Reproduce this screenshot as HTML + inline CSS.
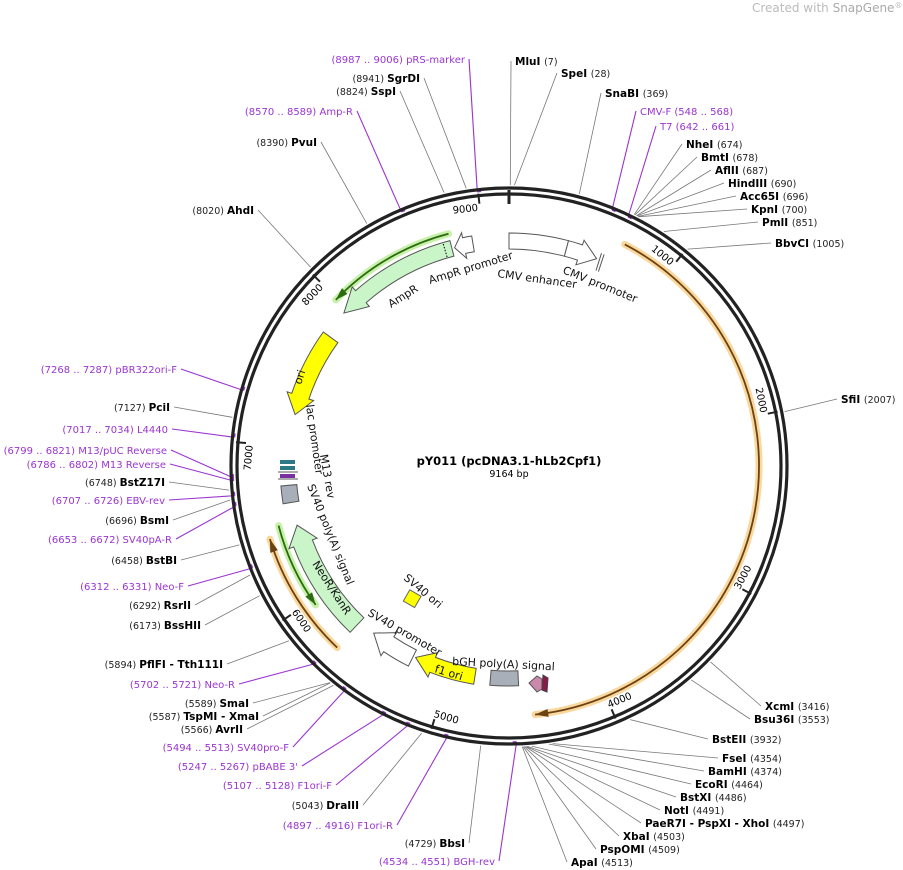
<!DOCTYPE html>
<html><head><meta charset="utf-8"><style>
html,body{margin:0;padding:0;background:#fff;}
svg{display:block;font-family:"DejaVu Sans","Liberation Sans",sans-serif;}
.n{font-weight:bold;font-size:10.5px;fill:#000}
.p{font-size:9.5px;fill:#222}
.pu{font-size:10px;fill:#9a35d0}
.f{font-size:11px;fill:#111}
</style></head><body>
<svg id="s" width="903" height="870" viewBox="0 0 903 870" xmlns="http://www.w3.org/2000/svg">
<text x="752" y="12" style="font-size:12px;fill:#bbb">Created with <tspan style="fill:#aaa">SnapGene</tspan><tspan style="font-size:8px" dy="-4">®</tspan></text>
<g id="lines"></g>
<circle cx="509" cy="466" r="278" fill="none" stroke="#222" stroke-width="3.2"/>
<circle cx="509" cy="466" r="272" fill="none" stroke="#222" stroke-width="3.2"/>
<g id="feat"></g>
<g id="ticks"></g>
<g id="labs"></g>
<text x="509" y="465" text-anchor="middle" style="font-weight:bold;font-size:11.5px">pY011 (pcDNA3.1-hLb2Cpf1)</text>
<text x="509" y="477" text-anchor="middle" style="font-size:9.5px">9164 bp</text>
<g class="f">
<text transform="translate(391,308) rotate(-32)" class="f">AmpR</text>
<text transform="translate(430,284) rotate(-17)" class="f">AmpR promoter</text>
<text transform="translate(497,277) rotate(8)" class="f">CMV enhancer</text>
<text transform="translate(562,273) rotate(22)" class="f">CMV promoter</text>
<text transform="translate(301,385) rotate(-72)" class="f">ori</text>
<text transform="translate(306,405) rotate(82)" class="f">lac promoter</text>
<text transform="translate(320,455) rotate(80)" class="f">M13 rev</text>
<text transform="translate(307,486) rotate(68)" class="f">SV40 poly(A) signal</text>
<text transform="translate(312,564) rotate(57)" class="f">NeoR/KanR</text>
<text transform="translate(403,579) rotate(40)" class="f">SV40 ori</text>
<text transform="translate(367,615) rotate(30)" class="f">SV40 promoter</text>
<text transform="translate(434,672) rotate(17)" class="f">f1 ori</text>
<text transform="translate(452,665) rotate(3)" class="f">bGH poly(A) signal</text>
</g>
</svg>
<script>
var C=[509,466],N=9164,NS="http://www.w3.org/2000/svg";
function P(r,a){a=a*Math.PI/180;return [C[0]+r*Math.sin(a),C[1]-r*Math.cos(a)];}
function f(p){return p[0].toFixed(1)+","+p[1].toFixed(1);}
function el(g,t,at,txt){var e=document.createElementNS(NS,t);for(var k in at)e.setAttribute(k,at[k]);if(txt)e.textContent=txt;document.getElementById(g).appendChild(e);return e;}
function arc(r,a1,a2){var sw=a2>a1?1:0,lg=Math.abs(a2-a1)>180?1:0;return "M"+f(P(r,a1))+" A"+r+","+r+" 0 "+lg+","+sw+" "+f(P(r,a2));}
function band(r1,r2,a1,a2,head,fill){
 var d=a2>a1?1:-1,hb=a2-d*head,rm=(r1+r2)/2,s;
 if(head>0){s=arc(r2,a1,hb)+" L"+f(P(r2+5,hb))+" L"+f(P(rm,a2))+" L"+f(P(r1-5,hb))+" L"+f(P(r1,hb))+" "+arc(r1,hb,a1).replace("M","L")+"Z";}
 else{s=arc(r2,a1,a2)+" L"+f(P(r1,a2))+" "+arc(r1,a2,a1).replace("M","L")+"Z";}
 el("feat","path",{d:s,fill:fill,stroke:"#555","stroke-width":1});}
function line(r,a1,a2,glow,col){
 el("feat","path",{d:arc(r,a1,a2),fill:"none",stroke:glow,"stroke-width":7,"stroke-linecap":"round",opacity:.8});
 el("feat","path",{d:arc(r,a1,a2),fill:"none",stroke:col,"stroke-width":1.8});
 var d=a2>a1?1:-1,t=P(r,a2),b1=P(r+4,a2-d*3),b2=P(r-4,a2-d*3);
 el("feat","path",{d:"M"+f(t)+" L"+f(b1)+" L"+f(b2)+"Z",fill:col});}
line(250,27.6,174,"#f7cd85","#6b4212");
line(250,223.4,253,"#f7cd85","#6b4212");
line(240,345.4,313.8,"#b9ed93","#2b6b12");
line(238,255.5,234.3,"#b9ed93","#2b6b12");
band(217,233,345.3,312.8,6,"#c9f5c9");
el("feat","path",{d:"M"+f(P(218,343.5))+" L"+f(P(232,343.5)),stroke:"#000","stroke-dasharray":"1.5,1.5"});
band(217,233,350.8,346,2.5,"#fff");
band(217,233,0,14.8,0,"#fff");
band(217,233,14.8,22.9,4.5,"#fff");
el("feat","path",{d:"M"+f(P(214,24))+" L"+f(P(232,23.5))+" M"+f(P(214,24.7))+" L"+f(P(232,24.2)),stroke:"#555","stroke-width":1});
band(211,229,305.8,283.5,5,"#ffff00");
band(210,230,223.7,254.4,5,"#c9f5c9");
band(206,224,206.7,219,5,"#fff");
band(205,221,189.2,206,5,"#ffff00");
band(205,220,177.5,185,0,"#a9afb8");
band(213,229,260.5,265,0,"#a9afb8");
el("feat","rect",{x:280,y:460,width:15,height:4,fill:"#2d7a86"});
el("feat","rect",{x:280,y:466,width:15,height:4,fill:"#2d7a86"});
el("feat","rect",{x:280,y:474,width:15,height:4,fill:"#7a2fa0"});
el("feat","path",{d:"M278,472 L298,472 M278,479 L298,479",stroke:"#222","stroke-width":0.8});
el("feat","rect",{x:406,y:592,width:13,height:13,fill:"#ffff00",stroke:"#666",transform:"rotate(30 412 598)"});
el("feat","path",{d:"M537,676 L529,683 L537,692 L542,689 L542,679Z",fill:"#cc88aa",stroke:"#555"});
el("feat","path",{d:"M543,675 L548,678 L547,692 L542,690Z",fill:"#8a1a4a",stroke:"#444"});
for(var k=0;k<10;k++){var a=k*1000/N*360;if(k==0){el("ticks","path",{d:"M"+f(P(262,0))+" L"+f(P(276,0)),stroke:"#222","stroke-width":3});continue;}
 el("ticks","path",{d:"M"+f(P(264,a))+" L"+f(P(274,a)),stroke:"#222","stroke-width":2});
 var q,rot,anc;
 if(a<90||a>270){rot=a>180?a-360:a;q=P(257,a-0.4);anc="end";}
 else{rot=a-180;q=P(262,a+0.4);anc="start";}
 el("ticks","text",{x:q[0],y:q[1],"text-anchor":anc,style:"font-size:10px",transform:"rotate("+(rot)+" "+q[0]+" "+q[1]+")"},String(k*1000));}
var L=[
["pRS-marker","(8987 .. 9006)",465,63,"L",8996,1],["SgrDI","(8941)",420,82,"L",8941],["SspI","(8824)",396,95,"L",8824],
["Amp-R","(8570 .. 8589)",353,115,"L",8580,1],["PvuI","(8390)",317,146,"L",8390],["AhdI","(8020)",254,214,"L",8020],
["MluI","(7)",515,65,"R",7],["SpeI","(28)",561,77,"R",28],["SnaBI","(369)",605,97,"R",369],
["CMV-F","(548 .. 568)",640,115,"R",558,1],["T7","(642 .. 661)",660,130,"R",651,1],
["NheI","(674)",686,148,"R",674],["BmtI","(678)",701,161,"R",678],["AflII","(687)",715,174,"R",687],
["HindIII","(690)",728,187,"R",690],["Acc65I","(696)",740,200,"R",696],["KpnI","(700)",751,213,"R",700],
["PmlI","(851)",762,226,"R",851],["BbvCI","(1005)",775,247,"R",1005],["SfiI","(2007)",841,403,"R",2007],
["XcmI","(3416)",765,710,"R",3416],["Bsu36I","(3553)",754,723,"R",3553],["BstEII","(3932)",712,743,"R",3932],
["FseI","(4354)",722,762,"R",4354],["BamHI","(4374)",708,775,"R",4374],["EcoRI","(4464)",695,788,"R",4464],
["BstXI","(4486)",680,801,"R",4486],["NotI","(4491)",664,814,"R",4491],["PaeR7I - PspXI - XhoI","(4497)",645,827,"R",4497],
["XbaI","(4503)",623,840,"R",4503],["PspOMI","(4509)",600,853,"R",4509],["ApaI","(4513)",571,866,"R",4513],
["BGH-rev","(4534 .. 4551)",495,865,"L",4542,1],["BbsI","(4729)",465,847,"L",4729],["F1ori-R","(4897 .. 4916)",393,829,"L",4906,1],
["DraIII","(5043)",359,809,"L",5043],["F1ori-F","(5107 .. 5128)",332,789,"L",5117,1],["pBABE 3'","(5247 .. 5267)",298,770,"L",5257,1],
["SV40pro-F","(5494 .. 5513)",289,751,"L",5503,1],["AvrII","(5566)",243,733,"L",5566],["TspMI - XmaI","(5587)",259,720,"L",5587],
["SmaI","(5589)",249,707,"L",5589],["Neo-R","(5702 .. 5721)",235,688,"L",5711,1],["PflFI - Tth111I","(5894)",223,668,"L",5894],
["BssHII","(6173)",201,629,"L",6173],["RsrII","(6292)",191,609,"L",6292],["Neo-F","(6312 .. 6331)",184,590,"L",6321,1],
["BstBI","(6458)",177,564,"L",6458],["SV40pA-R","(6653 .. 6672)",172,543,"L",6662,1],["BsmI","(6696)",169,524,"L",6696],
["EBV-rev","(6707 .. 6726)",165,504,"L",6716,1],["BstZ17I","(6748)",165,486,"L",6748],["M13 Reverse","(6786 .. 6802)",166,468,"L",6794,1],
["M13/pUC Reverse","(6799 .. 6821)",167,454,"L",6810,1],["L4440","(7017 .. 7034)",168,433,"L",7025,1],["PciI","(7127)",170,411,"L",7127],
["pBR322ori-F","(7268 .. 7287)",177,373,"L",7277,1]];
L.forEach(function(o){
 var pu=o[6],t=el("labs","text",{x:o[2],y:o[3],"text-anchor":o[4]=="L"?"end":"start"});
 function sp(txt,c){var s=document.createElementNS(NS,"tspan");s.setAttribute("class",c);s.textContent=txt;t.appendChild(s);}
 if(o[4]=="L"){sp(o[1]+"  ",pu?"pu":"p");sp(o[0],pu?"pu":"n");}else{sp(o[0]+"  ",pu?"pu":"n");sp(o[1],pu?"pu":"p");}
 var a=o[5]/N*360,e=P(pu?276:281,a),sx=o[4]=="L"?o[2]+4:o[2]-4;
 el("lines","path",{d:"M"+sx+","+(o[3]-4)+" L"+f(e),fill:"none",stroke:pu?"#9a35d0":"#777","stroke-width":pu?1.1:0.8});
 if(pu){el("lines","path",{d:"M"+f(e)+" L"+f(P(276,a+0.8)),stroke:"#9a35d0","stroke-width":1.5});}
});
</script>
</body></html>
